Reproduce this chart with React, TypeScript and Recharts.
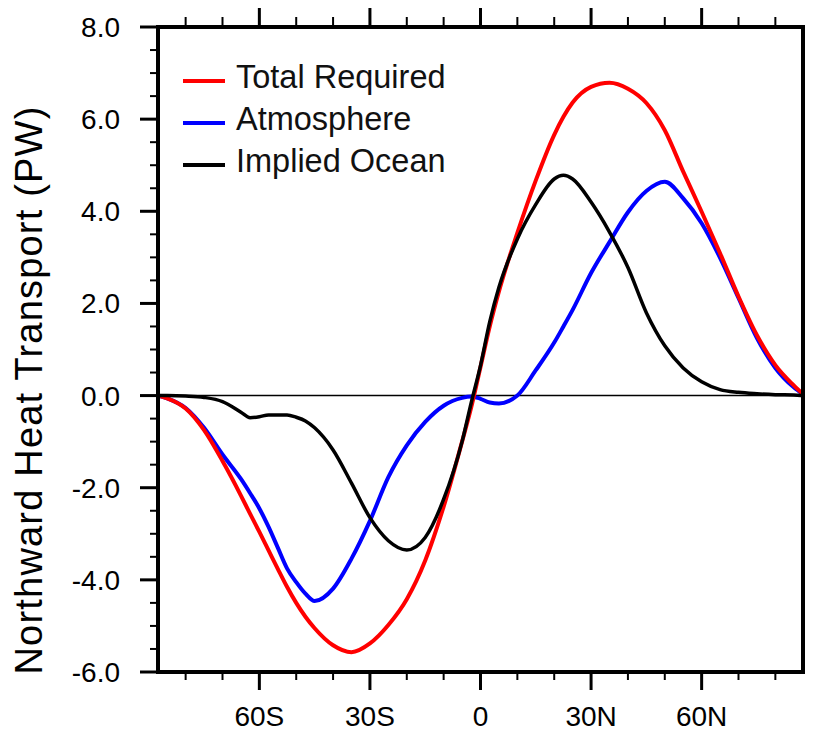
import { LineChart, Line, XAxis, YAxis, ReferenceLine, Legend } from "recharts";

// latitude of each sample (negative = south)
const latitudes = [
  -87.5, -85, -80, -75, -70, -65, -62.5, -60, -57.5, -55, -52.5, -50, -47.5, -45, -40, -35, -30, -25, -20, -15,
  -10, -5, -2.5, 0, 2.5, 5, 10, 15, 20, 22.5, 25, 30, 35, 40, 45, 50, 55, 60, 65, 70, 75, 80, 85, 87.5,
];
const totalRequired = [
  0, -0.06, -0.28, -0.75, -1.42, -2.17, -2.57, -2.96, -3.36, -3.76, -4.15, -4.5, -4.8, -5.05, -5.42, -5.57, -5.38,
  -4.98, -4.42, -3.58, -2.41, -1.0, -0.25, 0.62, 1.5, 2.26, 3.53, 4.67, 5.66, 6.05, 6.36, 6.7, 6.79, 6.66, 6.35, 5.76,
  4.86, 3.99, 3.09, 2.15, 1.31, 0.66, 0.22, 0.03,
];
const atmosphere = [
  0, -0.06, -0.27, -0.7, -1.28, -1.81, -2.12, -2.45, -2.85, -3.3, -3.75, -4.05, -4.3, -4.46, -4.19, -3.54, -2.72,
  -1.77, -1.08, -0.57, -0.22, -0.05, -0.02, -0.07, -0.15, -0.17, 0.0, 0.55, 1.15, 1.5, 1.86, 2.66, 3.33, 3.98, 4.44,
  4.64, 4.28, 3.74, 2.99, 2.12, 1.25, 0.6, 0.18, 0.03,
];
const impliedOcean = [
  0, 0, -0.01, -0.04, -0.13, -0.36, -0.48, -0.46, -0.42, -0.42, -0.42, -0.47, -0.55, -0.7, -1.18, -1.9, -2.65,
  -3.15, -3.35, -3.08, -2.25, -1.0, -0.15, 0.65, 1.6, 2.35, 3.4, 4.15, 4.7, 4.78, 4.7, 4.2, 3.55, 2.78, 1.8, 1.08,
  0.6, 0.3, 0.13, 0.07, 0.04, 0.02, 0.01, 0,
];

const xTicks = [-80, -70, -60, -50, -40, -30, -20, -10, 0, 10, 20, 30, 40, 50, 60, 70, 80];
const xMajor = [-60, -30, 0, 30, 60];
const xLabels = ["60S", "30S", "0", "30N", "60N"];
const yTicks = [-6, -5.5, -5, -4.5, -4, -3.5, -3, -2.5, -2, -1.5, -1, -0.5, 0, 0.5, 1, 1.5, 2, 2.5, 3, 3.5, 4, 4.5, 5, 5.5, 6, 6.5, 7, 7.5, 8];
const yMajor = [-6, -4, -2, 0, 2, 4, 6, 8];

const seriesNames = ["Total Required", "Atmosphere", "Implied Ocean"];
const seriesColors = ["#ff0000", "#0000ff", "#000000"];

const data = latitudes.map((lat, i) => ({
  lat,
  total: totalRequired[i],
  atm: atmosphere[i],
  ocean: impliedOcean[i],
}));

const FONT = "'Liberation Sans', Arial, Helvetica, sans-serif";

const BottomTick = (props: any) => {
  const { x, y, payload } = props;
  const idx = xMajor.indexOf(payload.value);
  const major = idx >= 0;
  return (
    <g>
      <line x1={x} x2={x} y1={y} y2={y + (major ? 18 : 8)} stroke="#000" strokeWidth={major ? 3 : 2} />
      {major && (
        <text x={x} y={y + 54} textAnchor="middle" fontSize={28} fontFamily={FONT} fill="#000">
          {xLabels[idx]}
        </text>
      )}
    </g>
  );
};

const TopTick = (props: any) => {
  const { x, y, payload } = props;
  const major = xMajor.includes(payload.value);
  return <line x1={x} x2={x} y1={y} y2={y - (major ? 19 : 10)} stroke="#000" strokeWidth={major ? 3 : 2} />;
};

const LeftTick = (props: any) => {
  const { x, y, payload } = props;
  const major = yMajor.includes(payload.value);
  return (
    <g>
      <line x1={x} x2={x - (major ? 18 : 8)} y1={y} y2={y} stroke="#000" strokeWidth={major ? 3 : 2} />
      {major && (
        <text x={x - 38} y={y + 10} textAnchor="end" fontSize={28} fontFamily={FONT} fill="#000">
          {payload.value.toFixed(1)}
        </text>
      )}
    </g>
  );
};

const RightTick = (props: any) => {
  const { x, y, payload } = props;
  const major = yMajor.includes(payload.value);
  return <line x1={x} x2={x + (major ? 14 : 9)} y1={y} y2={y} stroke="#000" strokeWidth={major ? 3 : 2} />;
};

const YTitle = () => (
  <text
    x={42}
    y={390}
    transform="rotate(-90, 42, 390)"
    textAnchor="middle"
    fontSize={38}
    letterSpacing={1.2}
    fontFamily={FONT}
    fill="#000"
  >
    Northward Heat Transport (PW)
  </text>
);

const LegendBox = () => (
  <div style={{ fontFamily: FONT }}>
    {seriesNames.map((name, i) => (
      <div key={name} style={{ display: "flex", alignItems: "center", height: 42 }}>
        <div style={{ width: 42, height: 4, background: seriesColors[i] }} />
        <span style={{ marginLeft: 11, fontSize: 32.5, lineHeight: "42px", color: "#111", position: "relative", top: -4 }}>
          {name}
        </span>
      </div>
    ))}
  </div>
);

const frame = { stroke: "#000", strokeWidth: 4, strokeLinecap: "square" as const };

export default function App() {
  return (
    <div style={{ position: "absolute", left: 0, top: 0, width: 816, height: 733, background: "#fff" }}>
      <LineChart width={816} height={733} data={data} margin={{ top: 17, right: 8, bottom: 31, left: 98 }}>
        <XAxis
          xAxisId="bottom"
          dataKey="lat"
          type="number"
          domain={[-87.5, 87.5]}
          ticks={xTicks}
          height={30}
          tickSize={0}
          tickMargin={0}
          axisLine={frame}
          tick={<BottomTick />}
          interval={0}
        />
        <XAxis
          xAxisId="top"
          orientation="top"
          dataKey="lat"
          type="number"
          domain={[-87.5, 87.5]}
          ticks={xTicks}
          height={10}
          tickSize={0}
          tickMargin={0}
          axisLine={frame}
          tick={<TopTick />}
          interval={0}
        />
        <YAxis
          yAxisId="left"
          type="number"
          domain={[-6, 8]}
          ticks={yTicks}
          width={60}
          tickSize={0}
          tickMargin={0}
          axisLine={frame}
          tick={<LeftTick />}
          interval={0}
          label={<YTitle />}
        />
        <YAxis
          yAxisId="right"
          orientation="right"
          type="number"
          domain={[-6, 8]}
          ticks={yTicks}
          width={5}
          tickSize={0}
          tickMargin={0}
          axisLine={frame}
          tick={<RightTick />}
          interval={0}
        />
        <ReferenceLine xAxisId="bottom" yAxisId="left" y={0} stroke="#000" strokeWidth={1.5} />
        <Line
          xAxisId="bottom"
          yAxisId="left"
          type="monotone"
          dataKey="atm"
          name={seriesNames[1]}
          stroke={seriesColors[1]}
          strokeWidth={4}
          dot={false}
          isAnimationActive={false}
        />
        <Line
          xAxisId="bottom"
          yAxisId="left"
          type="monotone"
          dataKey="total"
          name={seriesNames[0]}
          stroke={seriesColors[0]}
          strokeWidth={4}
          dot={false}
          isAnimationActive={false}
        />
        <Line
          xAxisId="bottom"
          yAxisId="left"
          type="monotone"
          dataKey="ocean"
          name={seriesNames[2]}
          stroke={seriesColors[2]}
          strokeWidth={3.5}
          dot={false}
          isAnimationActive={false}
        />
        <Legend
          layout="vertical"
          align="center"
          verticalAlign="middle"
          wrapperStyle={{ position: "absolute", left: 183, top: 60, width: 300, height: 126 }}
          content={<LegendBox />}
        />
      </LineChart>
    </div>
  );
}
